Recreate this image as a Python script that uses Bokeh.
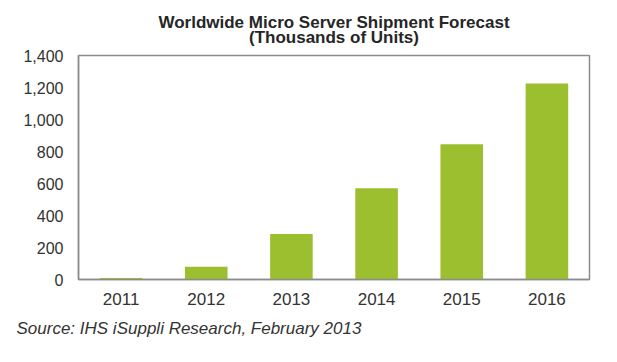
from bokeh.plotting import figure
from bokeh.models import FactorRange, Range1d, FixedTicker, NumeralTickFormatter, Title
from bokeh.embed import file_html
from bokeh.resources import INLINE

years = ["2011", "2012", "2013", "2014", "2015", "2016"]
shipments = [10, 80, 285, 570, 845, 1225]
y_ticks = [0, 200, 400, 600, 800, 1000, 1200, 1400]

title_text = "Worldwide Micro Server Shipment Forecast\n(Thousands of Units)"
source_text = "Source: IHS iSuppli Research, February 2013"

p = figure(width=601, height=346, output_backend="svg", toolbar_location=None,
           x_range=FactorRange(*years), y_range=Range1d(0, 1400),
           min_border_left=78, min_border_right=12, min_border_top=55, min_border_bottom=67)

p.vbar(x=years, top=shipments, width=0.5, color="#9bbf2f", line_color=None)

title = Title(text=title_text, align="center", offset=-11,
              text_font="Liberation Sans", text_font_size="17px",
              text_font_style="bold", text_color="#262626", standoff=16)
props = Title.properties()
if "text_align" in props:
    title.text_align = "center"
if "text_line_height" in props:
    title.text_line_height = 0.8
p.title = title

src = Title(text=source_text, align="left", offset=-62,
            text_font="Liberation Sans", text_font_size="17px",
            text_font_style="italic", text_color="#333333", standoff=18)
p.add_layout(src, "below")

p.outline_line_color = "#8c8c8c"
p.outline_line_width = 1.5
p.xgrid.grid_line_color = None
p.ygrid.grid_line_color = None

for ax in (p.xaxis, p.yaxis):
    ax.axis_line_color = "#8c8c8c"
    ax.axis_line_width = 1.5
    ax.major_tick_line_color = None
    ax.minor_tick_line_color = None
    ax.major_tick_in = 0
    ax.major_tick_out = 0
    ax.major_label_text_font = "Liberation Sans"
    ax.major_label_text_color = "#333333"

p.yaxis.major_label_text_font_size = "16px"
p.xaxis.major_label_text_font_size = "17px"
p.yaxis.ticker = FixedTicker(ticks=y_ticks)
p.yaxis.formatter = NumeralTickFormatter(format="0,0")
p.yaxis.major_label_standoff = 15
p.xaxis.major_label_standoff = 13

open("out.html", "w").write(file_html(p, INLINE))
